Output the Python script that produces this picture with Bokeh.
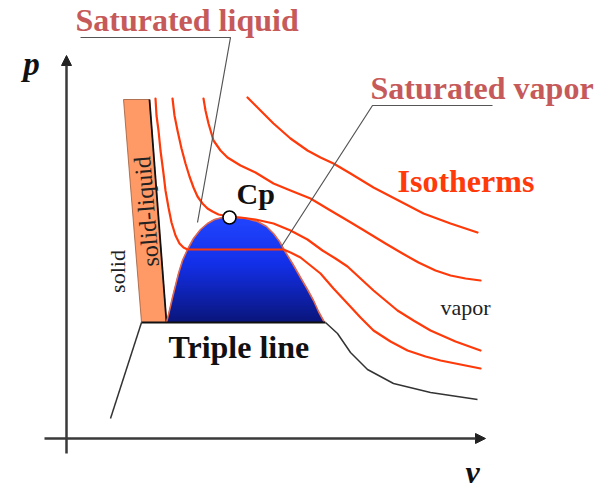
import numpy as np
from bokeh.plotting import figure
from bokeh.models import Range1d, Arrow, NormalHead
from bokeh.embed import file_html
from bokeh.resources import INLINE
from bokeh.core.properties import value

# ---- chart data (schematic p-v diagram; v to the right, y measured downward on the sheet) ----
TOP = 489  # p = TOP - y

# isotherms (v, y)
iso_a_v = [247, 260, 273, 290, 307, 320, 333, 350, 373, 398, 423, 450, 477]
iso_a_y = [97, 110, 123, 138, 150, 157, 163, 173, 187, 200, 213, 223, 232]

iso_b_v = [203, 205, 208, 213, 220, 227, 240, 255, 273, 290, 310, 330, 347, 362, 385, 402, 418, 435, 450, 465, 480]
iso_b_y = [98, 110, 123, 140, 150, 157, 165, 172, 183, 190, 198, 210, 220, 229, 243, 253, 262, 270, 275, 278, 280]

iso_c_v = [172, 174, 177, 181, 185, 189, 193, 197, 202, 207, 212, 218, 223, 229, 240, 255, 273, 290, 307, 322, 335, 347, 360, 373, 385, 397, 413, 430, 455, 480]
iso_c_y = [98, 115, 130, 148, 163, 176, 187, 196, 203, 208, 211, 214, 215, 216, 217, 219, 223, 230, 239, 250, 258, 266, 278, 290, 300, 310, 320, 330, 341, 350]

iso_d_v = [155, 156, 158, 160, 163, 165, 168, 171, 175, 179, 183, 187, 283, 290, 300, 310, 320, 333, 347, 360, 373, 390, 407, 425, 440, 460, 480]
iso_d_y = [98, 115, 130, 150, 173, 190, 207, 222, 235, 243, 247, 249, 249, 252, 257, 265, 273, 288, 303, 317, 330, 341, 350, 356, 360, 364, 368]

# saturation dome: left (liquid) and right (vapor) branches, top to bottom
dome_l_v = [229, 222, 214, 207, 200, 193, 187, 182, 178, 175, 172, 169, 166]
dome_l_y = [216, 217, 219, 223, 229, 238, 249, 260, 273, 285, 297, 310, 322]
dome_r_v = [229, 236, 246, 257, 266, 273, 279, 284, 292, 300, 307, 313, 318, 324]
dome_r_y = [216, 217, 218, 221, 226, 233, 241, 250, 263, 277, 289, 300, 311, 322]

# solid-liquid band
band_v = [123, 149, 166, 141]
band_y = [99, 99, 322, 322]

# triple line and the solid / vapor boundaries below it
triple_v = [141, 325]
triple_y = [322, 322]
solid_v = [141, 110]
solid_y = [322, 418]
vap_v = [325, 337, 350, 367, 393, 430, 477]
vap_y = [322, 333, 352, 369, 383, 392, 399]

# critical point
cp_v, cp_y = 229, 217

# leader lines
lead_liq_v = [80, 230, 197]
lead_liq_y = [37, 37, 222]
lead_vap_v = [492, 372, 281]
lead_vap_y = [105, 105, 246]


def P(ys):
    return [TOP - y for y in ys]


W, H = 598, 489
p = figure(width=W, height=H, output_backend="svg", toolbar_location=None,
           x_range=Range1d(0, W), y_range=Range1d(TOP - H, TOP),
           x_axis_location=None, y_axis_location=None, min_border=0,
           outline_line_color=None, background_fill_color="white",
           border_fill_color="white")
p.xgrid.visible = False
p.ygrid.visible = False

ISO = "#FF3A0A"
SERIF = value("Liberation Serif")

# axes with arrows
p.add_layout(Arrow(end=NormalHead(size=10, fill_color="#222222", line_color="#222222"),
                   x_start=66, y_start=TOP - 453, x_end=66, y_end=TOP - 55,
                   line_width=2.5, line_color="#3a3a3a"))
p.add_layout(Arrow(end=NormalHead(size=10, fill_color="#222222", line_color="#222222"),
                   x_start=44, y_start=TOP - 438, x_end=485, y_end=TOP - 438,
                   line_width=2.5, line_color="#3a3a3a"))

# solid-liquid band
p.patch(band_v, P(band_y), fill_color="#FF9966", line_color="#9a5a3a", line_width=0.8)
p.line([band_v[1], band_v[2]], P([band_y[1], band_y[2]]), line_color="#111111", line_width=1.8)

# dome fill as a vertical gradient of thin strips
ly = np.array(dome_l_y, float); lx = np.array(dome_l_v, float)
ry = np.array(dome_r_y, float); rx = np.array(dome_r_v, float)
ymin, ymax = min(dome_l_y), max(dome_l_y)
levels = np.arange(ymin, ymax + 0.01, 1.0)
xs, ys, cols = [], [], []
for y0, y1 in zip(levels[:-1], levels[1:]):
    xl0, xl1 = np.interp([y0, y1], ly, lx)
    xr0, xr1 = np.interp([y0, y1], ry, rx)
    xs.append([xl0, xr0, xr1, xl1])
    ys.append(P([y0, y0, y1, y1]))
    t = ((y0 + y1) / 2 - ymin) / (ymax - ymin)
    r = np.interp(t, [0, 0.45, 1], [25, 10, 0])
    g = np.interp(t, [0, 0.45, 1], [62, 40, 12])
    b = np.interp(t, [0, 0.45, 1], [255, 232, 118])
    cols.append("#%02x%02x%02x" % (int(r), int(g), int(b)))
p.patches(xs, ys, fill_color=cols, line_color=cols, line_width=0.6)

# dome outline
p.line(dome_l_v[::-1] + dome_r_v[1:], P(dome_l_y[::-1] + dome_r_y[1:]),
       line_color="#E0684F", line_width=1.6, line_join="round")

# triple line and boundaries
p.line(triple_v, P(triple_y), line_color="#111111", line_width=2)
p.line(solid_v, P(solid_y), line_color="#333333", line_width=1.5)
p.line(vap_v, P(vap_y), line_color="#333333", line_width=1.5, line_join="round")

# isotherms
for vv, yy in [(iso_a_v, iso_a_y), (iso_b_v, iso_b_y), (iso_c_v, iso_c_y), (iso_d_v, iso_d_y)]:
    p.line(vv, P(yy), line_color=ISO, line_width=2.2, line_join="round", line_cap="round")

# leader lines
p.line(lead_liq_v, P(lead_liq_y), line_color="#555555", line_width=1.2)
p.line(lead_vap_v, P(lead_vap_y), line_color="#555555", line_width=1.2)

# critical point
p.scatter([cp_v], P([cp_y]), size=13, fill_color="white", line_color="black", line_width=1.6)

# labels (y = baseline on the sheet)
DY = 10  # baseline correction for the svg text renderer


def label(x, y, txt, size, color, style="bold", align="left", baseline="alphabetic", angle=0.0, dy=DY):
    p.text(x=[x], y=[TOP - (y - dy)], text=[txt], text_font=SERIF, text_font_size=size,
           text_font_style=style, text_color=color, text_align=align,
           text_baseline=baseline, angle=angle)


label(75, 29, "Saturated liquid", "32px", "#C65A5A")
label(370, 97, "Saturated vapor", "32px", "#C65A5A")
label(397, 190, "Isotherms", "32px", ISO)
label(236, 203, "Cp", "30px", "#111111")
label(168, 356, "Triple line", "32px", "#111111")
label(440, 317, "vapor", "22px", "#222222", style="normal")
label(117, 271, "solid", "22px", "#222222", style="normal", align="center", baseline="middle", angle=np.pi / 2, dy=0)
label(146, 211, "solid-liquid", "24px", "#222222", style="normal", align="center", baseline="middle", angle=np.pi / 2 + 0.08, dy=0)
label(31, 73, "p", "33px", "#111111", style="bold italic", align="center")
label(472, 481, "v", "32px", "#111111", style="bold italic", align="center")

open("out.html", "w").write(file_html(p, INLINE))
